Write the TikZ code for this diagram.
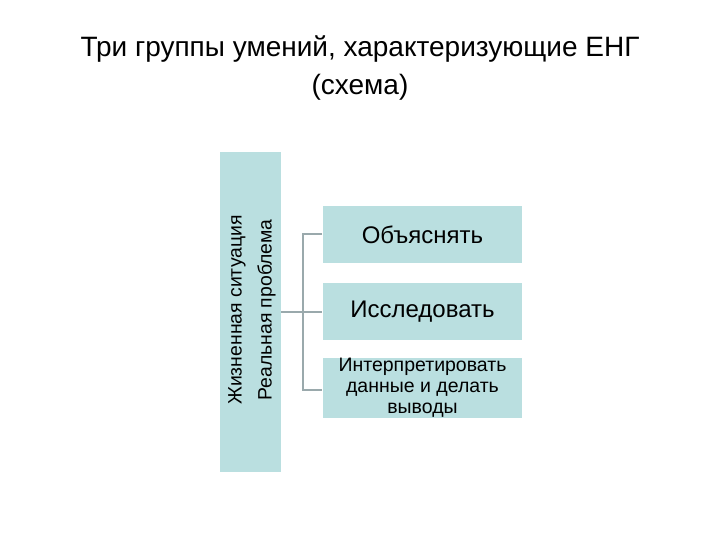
\documentclass[tikz,border=0pt]{standalone}
\usepackage{fontspec}
\setmainfont{Liberation Sans}
\definecolor{bx}{HTML}{BADFE0}
\definecolor{ln}{HTML}{9AA9AC}
\begin{document}
\begin{tikzpicture}[x=1pt,y=-1pt,
  box/.style={fill=bx,draw=white,line width=1pt,minimum width=200pt,minimum height=58pt,anchor=north west,align=center,inner sep=0pt},
  conn/.style={draw=ln,line width=1.5pt}]
\useasboundingbox (0,0) rectangle (720,540);
\node[align=center,font=\fontsize{28}{38}\selectfont] (title) at (360,68) {Три группы умений, характеризующие ЕНГ\\(схема)};
\node[fill=bx,minimum width=61pt,minimum height=320pt,anchor=north west,inner sep=0pt] (left) at (220,152) {};
\node[rotate=90,font=\fontsize{19.4}{30}\selectfont,align=center] (lt) at (252,310) {Жизненная ситуация\\Реальная проблема};
\node[box,font=\fontsize{24}{26}\selectfont] (b1) at (322,205) {Объяснять};
\node[box,font=\fontsize{24}{26}\selectfont] (b2) at (322,282) {Исследовать};
\node[box,minimum height=61pt,font=\fontsize{19.5}{21}\selectfont] (b3) at (322,357) {Интерпретировать\\данные и делать\\выводы};
\coordinate (t) at (303,234);
\coordinate (m) at (303,312);
\coordinate (bt) at (303,390);
\draw[conn] (left.east |- m) -- (m);
\draw[conn] (b1.west |- t) -- (t) -- (bt) -- (b3.west |- bt);
\draw[conn] (m) -- (b2.west |- m);
\end{tikzpicture}
\end{document}
